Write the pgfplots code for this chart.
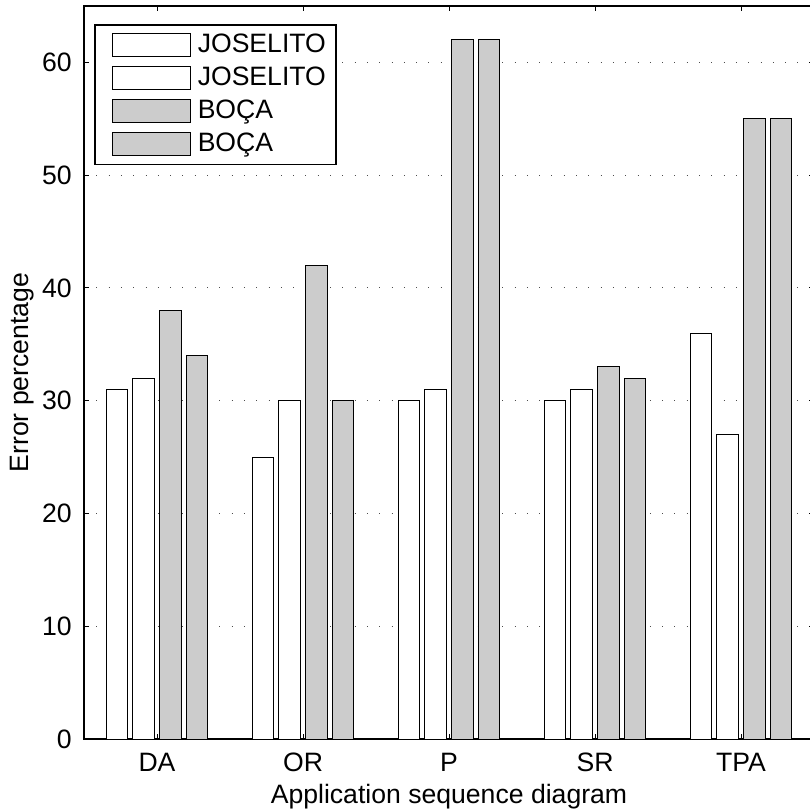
\documentclass[border=0pt]{standalone}
\usepackage{fontspec}
\setmainfont{Liberation Sans}
\usepackage{pgfplots}
\pgfplotsset{compat=1.18}
\definecolor{bargray}{RGB}{204,204,204}
\pgfplotstableread{
x a b c d
1 31 32 38 34
2 25 30 42 30
3 30 31 62 62
4 30 31 33 32
5 36 27 55 55
}\data
\begin{document}
\fontsize{13.3}{16}\selectfont
\begin{tikzpicture}
\begin{axis}[
  name=ax,
  scale only axis,
  width=365pt, height=366.5pt,
  xmin=0.5, xmax=5.5, ymin=0, ymax=65,
  xtick={1,2,3,4,5}, xticklabels={DA,OR,P,SR,TPA},
  ytick={0,10,20,30,40,50,60},
  tick align=inside,
  major tick length=2.5pt,
  tick style={black, line width=0.5pt},
  ymajorgrids,
  grid style={black!70, dash pattern=on 0.5pt off 5.65pt, line width=0.5pt},
  axis line style={line width=0.75pt},
  xlabel={Application sequence diagram},
  ylabel={Error percentage},
  xlabel shift=-3pt,
  ylabel shift=-5pt,
  xticklabel style={yshift=-2.5pt},
  yticklabel style={xshift=-1.5pt},
  /pgf/number format/assume math mode=true,
  legend style={at={(0.0137,0.975)}, anchor=north west, draw=black, line width=0.75pt,
    row sep=1.2pt, inner xsep=3pt, inner ysep=2.5pt, font=\fontsize{13.3}{16}\selectfont},
  legend cell align=left,
  mybar/.style={ybar, bar width=0.147, draw=black, line width=0.5pt,
    legend image code/.code={\path (0pt,0pt) (46pt,0pt);\draw[##1, line width=0.5pt] (5.5pt,-5.75pt) rectangle (44.5pt,5.75pt);}},
]
\addplot[mybar, fill=white, bar shift=-0.273] table[x=x,y=a]{\data};
\addplot[mybar, fill=white, bar shift=-0.091] table[x=x,y=b]{\data};
\addplot[mybar, fill=bargray, bar shift=0.091] table[x=x,y=c]{\data};
\addplot[mybar, fill=bargray, bar shift=0.273] table[x=x,y=d]{\data};
\legend{JOSELITO,JOSELITO,BOÇA,BOÇA}
\end{axis}
\pgfresetboundingbox
\path ([xshift=-42pt,yshift=-36pt]ax.south west) rectangle ([xshift=362.5pt,yshift=3pt]ax.north west);
\end{tikzpicture}
\end{document}
